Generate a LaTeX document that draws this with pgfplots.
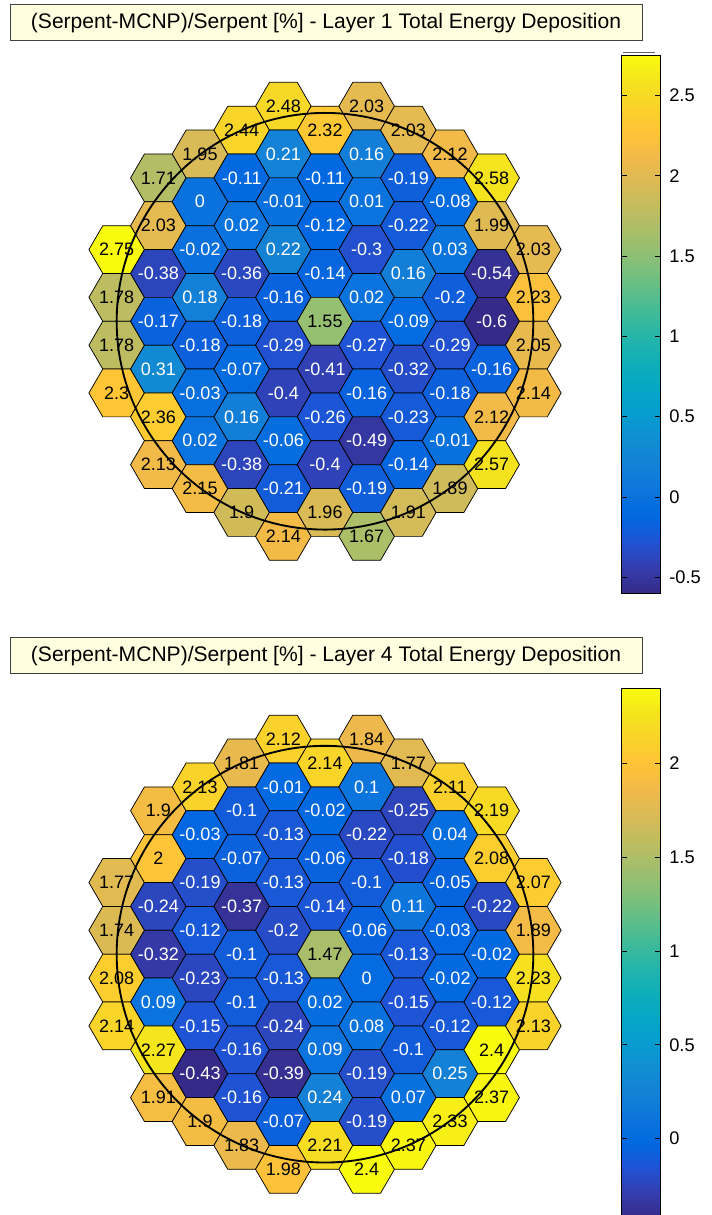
\documentclass[border=0pt]{standalone}
\usepackage{pgfplots}
\pgfplotsset{compat=1.18}
\usepackage{pgfplotstable}
\usepackage{fontspec}
\setmainfont{Liberation Sans}

\pgfplotsset{
  colormap={parula}{
    rgb=(0.2081,0.1663,0.5292)
    rgb=(0.2081,0.2386,0.6771)
    rgb=(0.1253,0.3242,0.8303)
    rgb=(0.0060,0.4086,0.8828)
    rgb=(0.0498,0.4586,0.8641)
    rgb=(0.0779,0.5040,0.8384)
    rgb=(0.0641,0.5570,0.8240)
    rgb=(0.0265,0.6137,0.8135)
    rgb=(0.0228,0.6535,0.7768)
    rgb=(0.0590,0.6838,0.7254)
    rgb=(0.1453,0.7098,0.6646)
    rgb=(0.2586,0.7317,0.5954)
    rgb=(0.3953,0.7459,0.5244)
    rgb=(0.5300,0.7491,0.4661)
    rgb=(0.6473,0.7456,0.4188)
    rgb=(0.7525,0.7384,0.3768)
    rgb=(0.8507,0.7299,0.3360)
    rgb=(0.9450,0.7261,0.2886)
    rgb=(0.9990,0.7653,0.2164)
    rgb=(0.9789,0.8271,0.1633)
    rgb=(0.9589,0.8949,0.1132)
    rgb=(0.9763,0.9831,0.0538)
  }
}

% flat-topped hexagon (column step 31.25pt, half row step 17.925pt)
\pgfdeclareplotmark{hexa}{%
  \pgfpathmoveto{\pgfqpoint{20.83pt}{0pt}}%
  \pgfpathlineto{\pgfqpoint{10.42pt}{17.925pt}}%
  \pgfpathlineto{\pgfqpoint{-10.42pt}{17.925pt}}%
  \pgfpathlineto{\pgfqpoint{-20.83pt}{0pt}}%
  \pgfpathlineto{\pgfqpoint{-10.42pt}{-17.925pt}}%
  \pgfpathlineto{\pgfqpoint{10.42pt}{-17.925pt}}%
  \pgfpathclose
  \pgfusepathqfillstroke}

\definecolor{titlebg}{RGB}{255,255,224}

% c = column, h = half-row index, v = value
\pgfplotstableread{
c h v
-5 3 2.75
-5 1 1.78
-5 -1 1.78
-5 -3 2.3
-4 6 1.71
-4 4 2.03
-4 2 -0.38
-4 0 -0.17
-4 -2 0.31
-4 -4 2.36
-4 -6 2.13
-3 7 1.95
-3 5 0
-3 3 -0.02
-3 1 0.18
-3 -1 -0.18
-3 -3 -0.03
-3 -5 0.02
-3 -7 2.15
-2 8 2.44
-2 6 -0.11
-2 4 0.02
-2 2 -0.36
-2 0 -0.18
-2 -2 -0.07
-2 -4 0.16
-2 -6 -0.38
-2 -8 1.9
-1 9 2.48
-1 7 0.21
-1 5 -0.01
-1 3 0.22
-1 1 -0.16
-1 -1 -0.29
-1 -3 -0.4
-1 -5 -0.06
-1 -7 -0.21
-1 -9 2.14
0 8 2.32
0 6 -0.11
0 4 -0.12
0 2 -0.14
0 0 1.55
0 -2 -0.41
0 -4 -0.26
0 -6 -0.4
0 -8 1.96
1 9 2.03
1 7 0.16
1 5 0.01
1 3 -0.3
1 1 0.02
1 -1 -0.27
1 -3 -0.16
1 -5 -0.49
1 -7 -0.19
1 -9 1.67
2 8 2.03
2 6 -0.19
2 4 -0.22
2 2 0.16
2 0 -0.09
2 -2 -0.32
2 -4 -0.23
2 -6 -0.14
2 -8 1.91
3 7 2.12
3 5 -0.08
3 3 0.03
3 1 -0.2
3 -1 -0.29
3 -3 -0.18
3 -5 -0.01
3 -7 1.89
4 6 2.58
4 4 1.99
4 2 -0.54
4 0 -0.6
4 -2 -0.16
4 -4 2.12
4 -6 2.57
5 3 2.03
5 1 2.23
5 -1 2.05
5 -3 2.14
}\layerA

\pgfplotstableread{
c h v
-5 3 1.77
-5 1 1.74
-5 -1 2.08
-5 -3 2.14
-4 6 1.9
-4 4 2
-4 2 -0.24
-4 0 -0.32
-4 -2 0.09
-4 -4 2.27
-4 -6 1.91
-3 7 2.13
-3 5 -0.03
-3 3 -0.19
-3 1 -0.12
-3 -1 -0.23
-3 -3 -0.15
-3 -5 -0.43
-3 -7 1.9
-2 8 1.81
-2 6 -0.1
-2 4 -0.07
-2 2 -0.37
-2 0 -0.1
-2 -2 -0.1
-2 -4 -0.16
-2 -6 -0.16
-2 -8 1.83
-1 9 2.12
-1 7 -0.01
-1 5 -0.13
-1 3 -0.13
-1 1 -0.2
-1 -1 -0.13
-1 -3 -0.24
-1 -5 -0.39
-1 -7 -0.07
-1 -9 1.98
0 8 2.14
0 6 -0.02
0 4 -0.06
0 2 -0.14
0 0 1.47
0 -2 0.02
0 -4 0.09
0 -6 0.24
0 -8 2.21
1 9 1.84
1 7 0.1
1 5 -0.22
1 3 -0.1
1 1 -0.06
1 -1 0
1 -3 0.08
1 -5 -0.19
1 -7 -0.19
1 -9 2.4
2 8 1.77
2 6 -0.25
2 4 -0.18
2 2 0.11
2 0 -0.13
2 -2 -0.15
2 -4 -0.1
2 -6 0.07
2 -8 2.37
3 7 2.11
3 5 0.04
3 3 -0.05
3 1 -0.03
3 -1 -0.02
3 -3 -0.12
3 -5 0.25
3 -7 2.33
4 6 2.19
4 4 2.08
4 2 -0.22
4 0 -0.02
4 -2 -0.12
4 -4 2.4
4 -6 2.37
5 3 2.07
5 1 1.89
5 -1 2.23
5 -3 2.13
}\layerD

\pgfplotsset{
  hexmap/.style={
    anchor=south west,
    x=31.25pt, y=17.925pt,
    xmin=-6, xmax=6,
    hide axis, clip=false,
    colormap name=parula,
    colorbar,
    colorbar/width=29pt,
  },
  hexcb/.style={
    scale only axis,
    width=29pt,
    at={(parent axis.north east)}, anchor=north west, xshift=26.5pt,
    tick align=inside,
    major tick length=4.3pt,
    tick style={black, line width=0.6pt},
    axis line style={black, line width=0.6pt},
    yticklabel style={font=\fontsize{13.7}{16}\selectfont, inner sep=0pt, xshift=6.5pt, anchor=west},
  },
  hexcells/.style={
    scatter, only marks, mark=hexa,
    scatter/use mapped color={draw=black, fill=mapped color},
    mark options={line width=0.55pt},
  },
  hexlabels/.style={
    only marks, mark=none,
    point meta=explicit symbolic,
    nodes near coords={\pgfplotspointmeta},
    every node near coord/.append style={anchor=center, inner sep=0pt,
      font=\fontsize{13.5}{14}\selectfont, text=#1},
  },
}

\begin{document}
\begin{tikzpicture}
\clip (0,0) rectangle (534pt,911.25pt);
\useasboundingbox (0,0) rectangle (534pt,911.25pt);

% ---------- Layer 1 ----------
\begin{axis}[hexmap,
  at={(56.25pt,466.3pt)},
  ymin=-11.38, ymax=11.13,
  point meta min=-0.6, point meta max=2.75,
  colorbar style={hexcb, height=403.5pt,
    ytick={-0.5,0,0.5,1,1.5,2,2.5},
    yticklabels={-0.5,0,0.5,1,1.5,2,2.5}},
]
\addplot[hexcells, point meta=\thisrow{v}] table[x=c, y=h] {\layerA};
\addplot[hexlabels=white, restrict expr to domain={\thisrow{v}}{-5:0.999}] table[x=c, y=h, meta=v] {\layerA};
\addplot[hexlabels=black, restrict expr to domain={\thisrow{v}}{1:5}] table[x=c, y=h, meta=v] {\layerA};
\end{axis}

% ---------- Layer 4 ----------
\begin{axis}[hexmap,
  at={(56.25pt,-3.19pt)},
  ymin=-11.09, ymax=11.13,
  point meta min=-0.43, point meta max=2.4,
  colorbar style={hexcb, height=398.3pt,
    ytick={0,0.5,1,1.5,2},
    yticklabels={0,0.5,1,1.5,2}},
]
\addplot[hexcells, point meta=\thisrow{v}] table[x=c, y=h] {\layerD};
\addplot[hexlabels=white, restrict expr to domain={\thisrow{v}}{-5:0.999}] table[x=c, y=h, meta=v] {\layerD};
\addplot[hexlabels=black, restrict expr to domain={\thisrow{v}}{1:5}] table[x=c, y=h, meta=v] {\layerD};
\end{axis}

% core outline circles
\draw[line width=1.4pt] (243.75pt,670.3pt) circle [radius=156.25pt];
\draw[line width=1.4pt] (243.75pt,195.6pt) circle [radius=156.25pt];

% titles
\node[draw=black!75, line width=0.6pt, fill=titlebg, minimum width=474pt, minimum height=27pt,
  inner sep=0pt, font=\fontsize{15.8}{18}\selectfont] at (244.5pt,894.2pt)
  {(Serpent-MCNP)/Serpent [\%] - Layer 1 Total Energy Deposition};
\node[draw=black!75, line width=0.6pt, fill=titlebg, minimum width=474pt, minimum height=27pt,
  inner sep=0pt, font=\fontsize{15.8}{18}\selectfont] at (244.5pt,419.55pt)
  {(Serpent-MCNP)/Serpent [\%] - Layer 4 Total Energy Deposition};
\draw[black!60, line width=0.6pt] (466.9pt,871.9pt) -- (491pt,871.9pt);
\end{tikzpicture}
\end{document}
